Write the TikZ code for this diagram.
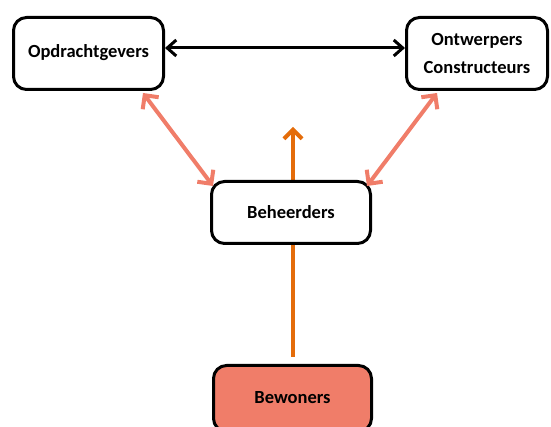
\documentclass[tikz,border=0pt]{standalone}
\usepackage{fontspec}
\setmainfont{Carlito}
\usetikzlibrary{arrows.meta,backgrounds}
\definecolor{salmon}{HTML}{F07D69}
\definecolor{orng}{HTML}{E46C0A}
\begin{document}
\begin{tikzpicture}[x=1pt,y=1pt,
  box/.style={draw=black, line width=3pt, rounded corners=13pt, fill=white,
    align=center, font=\fontsize{18.5}{28}\selectfont\bfseries, inner sep=0pt},
  blk/.style={draw=black, line width=3pt, {Straight Barb[length=9pt,width=16pt]}-{Straight Barb[length=9pt,width=16pt]}},
  sal/.style={draw=salmon, line width=4pt, {Straight Barb[length=10pt,width=20pt]}-{Straight Barb[length=10pt,width=20pt]}},
  org/.style={draw=orng, line width=4pt, -{Straight Barb[length=9pt,width=18pt]}}]
\useasboundingbox (0,0) rectangle (551,427);
\node[box, minimum width=150pt, minimum height=72pt] (opd) at (88.5,373.5) {\raisebox{5pt}{Opdrachtgevers}};
\node[box, minimum width=141pt, minimum height=72pt] (ont) at (477,373.5) {\raisebox{5pt}{\parbox{130pt}{\centering Ontwerpers\\Constructeurs}}};
\node[box, minimum width=159pt, minimum height=62pt] (beh) at (291,214.5) {Beheerders};
\node[box, fill=salmon, minimum width=158pt, minimum height=66pt] (bew) at (292.5,28.5) {\raisebox{2pt}{Bewoners}};
\coordinate (top) at (293,300);
\draw[blk] ([yshift=5.5pt]opd.east) -- ([yshift=5.5pt]ont.west);
\draw[sal] ([xshift=-22pt,yshift=-2pt]opd.south east) -- ([xshift=3pt,yshift=-6pt]beh.north west);
\draw[sal] ([xshift=32pt,yshift=-2pt]ont.south west) -- ([xshift=-5pt,yshift=-6pt]beh.north east);
\begin{scope}[on background layer]
\draw[org] ([xshift=0.5pt,yshift=7pt]bew.north) -- (top);
\end{scope}
\end{tikzpicture}
\end{document}
